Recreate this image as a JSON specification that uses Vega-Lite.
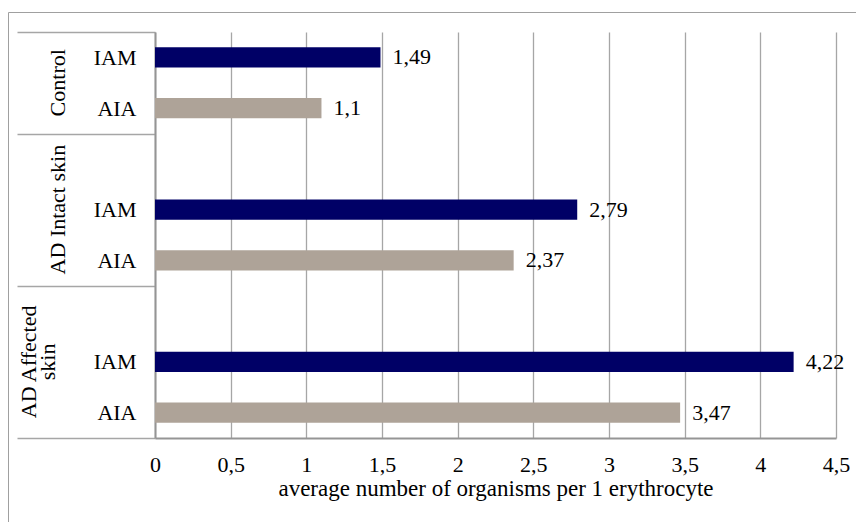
{
  "$schema": "https://vega.github.io/schema/vega-lite/v6.json",
  "width": 851,
  "height": 513,
  "autosize": {"type": "none"},
  "padding": {"left": 8, "top": 12, "right": -3, "bottom": -3},
  "background": "white",
  "config": {
    "locale": {
      "number": {"decimal": ",", "thousands": " ", "grouping": [3], "currency": ["", ""]}
    },
    "view": {"stroke": "#a0a0a0", "strokeWidth": 1},
    "font": "Liberation Serif",
    "axis": {
      "labelFont": "Liberation Serif",
      "labelFontSize": 22,
      "labelColor": "#000000",
      "titleFont": "Liberation Serif",
      "titleFontSize": 23,
      "titleFontWeight": "normal",
      "titleColor": "#000000"
    }
  },
  "data": {
    "values": [
      {"group": "Control", "series": "IAM", "row": "Control|IAM", "value": 1.49},
      {"group": "Control", "series": "AIA", "row": "Control|AIA", "value": 1.1},
      {"group": "AD Intact skin", "series": "IAM", "row": "Intact|IAM", "value": 2.79},
      {"group": "AD Intact skin", "series": "AIA", "row": "Intact|AIA", "value": 2.37},
      {"group": "AD Affected skin", "series": "IAM", "row": "Affected|IAM", "value": 4.22},
      {"group": "AD Affected skin", "series": "AIA", "row": "Affected|AIA", "value": 3.47}
    ]
  },
  "layer": [
    {
      "mark": {"type": "bar", "height": {"band": 0.4}},
      "encoding": {
        "x": {
          "field": "value",
          "type": "quantitative",
          "scale": {"domain": [0, 4.5], "range": [147, 828], "nice": false, "zero": true},
          "axis": {
            "orient": "bottom",
            "offset": -87,
            "values": [0, 0.5, 1, 1.5, 2, 2.5, 3, 3.5, 4, 4.5],
            "format": "~g",
            "ticks": false,
            "grid": false,
            "domainColor": "#959595",
            "domainWidth": 2,
            "labelPadding": 16,
            "labelFlush": false,
            "labelOverlap": false,
            "title": "average number of organisms per 1 erythrocyte",
            "titlePadding": 2
          }
        },
        "y": {
          "field": "row",
          "type": "nominal",
          "scale": {
            "domain": ["Control|IAM", "Control|AIA", "Intact|", "Intact|IAM", "Intact|AIA", "Affected|", "Affected|IAM", "Affected|AIA"],
            "range": [20, 426],
            "paddingInner": 0,
            "paddingOuter": 0
          },
          "axis": {
            "orient": "left",
            "offset": -147,
            "title": null,
            "grid": false,
            "domainColor": "#959595",
            "domainWidth": 2,
            "tickBand": "extent",
            "tickSize": 138,
            "tickColor": "#a6a6a6",
            "tickWidth": 1.3,
            "tickOpacity": {
              "condition": {
                "test": "datum.extra || datum.index === 1 || indexof(['Control|AIA', 'Intact|AIA', 'Affected|AIA'], datum.value) >= 0",
                "value": 1
              },
              "value": 0
            },
            "labelExpr": "isString(datum.value) ? slice(datum.value, indexof(datum.value, '|') + 1) : ''",
            "labelPadding": -119,
            "labelAlign": "right",
            "labelBaseline": "middle",
            "labelOverlap": false
          }
        },
        "color": {
          "field": "series",
          "type": "nominal",
          "scale": {"domain": ["IAM", "AIA"], "range": ["#000066", "#aea398"]},
          "legend": null
        }
      }
    },
    {
      "mark": {"type": "text", "align": "left", "baseline": "middle", "dx": 12, "fontSize": 22, "font": "Liberation Serif", "color": "#000000"},
      "encoding": {
        "x": {
          "field": "value",
          "type": "quantitative",
          "scale": {"domain": [0, 4.5], "range": [147, 828], "nice": false, "zero": true},
          "axis": {
            "orient": "top",
            "values": [0, 0.5, 1, 1.5, 2, 2.5, 3, 3.5, 4, 4.5],
            "grid": true,
            "gridColor": "#a6a6a6",
            "gridWidth": 1.3,
            "domain": false,
            "ticks": false,
            "labels": false,
            "title": null
          }
        },
        "y": {
          "field": "row",
          "type": "nominal",
          "scale": {
            "domain": ["Control|IAM", "Control|AIA", "Intact|", "Intact|IAM", "Intact|AIA", "Affected|", "Affected|IAM", "Affected|AIA"],
            "range": [20, 426],
            "paddingInner": 0,
            "paddingOuter": 0
          },
          "axis": {
            "orient": "left",
            "offset": -147,
            "title": null,
            "grid": false,
            "domain": false,
            "ticks": false,
            "labelAngle": 270,
            "labelAlign": "center",
            "labelBaseline": "middle",
            "labelLineHeight": 19,
            "labelLimit": 0,
            "labelOverlap": false,
            "labelPadding": {"condition": {"test": "datum.value === 'Affected|IAM'", "value": 127}, "value": 98},
            "labelOffset": {"condition": {"test": "datum.value === 'Control|IAM'", "value": 25.4}, "value": 0},
            "labelExpr": "datum.value === 'Control|IAM' ? 'Control' : datum.value === 'Intact|IAM' ? 'AD Intact skin' : datum.value === 'Affected|IAM' ? ['AD Affected', 'skin'] : ''"
          }
        },
        "text": {"field": "value", "type": "quantitative", "format": "~g"}
      }
    }
  ],
  "resolve": {"axis": {"x": "independent", "y": "independent"}}
}
